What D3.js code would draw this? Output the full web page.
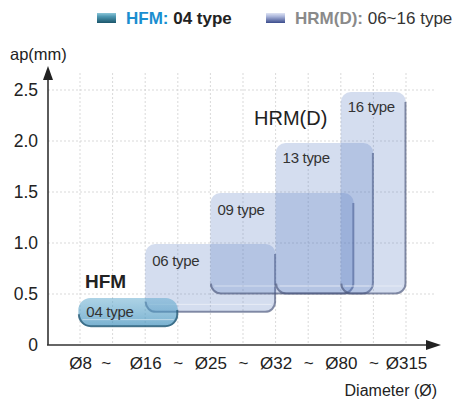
<!DOCTYPE html>
<html>
<head>
<meta charset="utf-8">
<script src="https://cdn.jsdelivr.net/npm/d3@7"></script>
<style>
  html, body { margin: 0; padding: 0; background: #fff; }
  svg { display: block; font-family: "Liberation Sans", Arial, sans-serif; }
</style>
</head>
<body>
<svg id="chart" width="454" height="403"></svg>
<script>
// ---- data ----
const xLabels = ["Ø8", "~", "Ø16", "~", "Ø25", "~", "Ø32", "~", "Ø80", "~", "Ø315"];
const yTicks = [0, 0.5, 1.0, 1.5, 2.0, 2.5];
const boxNames = ["04 type", "06 type", "09 type", "13 type", "16 type"];
const boxSeries = ["HFM", "HRM", "HRM", "HRM", "HRM"];
const boxXStart = [-0.05, 2, 4, 6, 8];      // in diameter-category index units
const boxXEnd   = [3, 6, 8.4, 9, 10];
const apMin = [0.18, 0.32, 0.5, 0.5, 0.5];
const apMax = [0.46, 0.99, 1.49, 1.98, 2.48];
const legendNames = ["HFM", "HRM(D)"];
const legendDesc = ["04 type", "06~16 type"];

// ---- setup ----
const svg = d3.select("#chart");
const x = d3.scaleLinear().domain([0, 10]).range([80, 406]);
const y = d3.scaleLinear().domain([0, 2.5]).range([345, 90]);
const axisX0 = 48;

const defs = svg.append("defs");
function grad(id, stops) {
  const g = defs.append("linearGradient").attr("id", id).attr("x1", 0).attr("y1", 0).attr("x2", 0).attr("y2", 1);
  stops.forEach(s => g.append("stop").attr("offset", s[0]).attr("stop-color", s[1]).attr("stop-opacity", s[2] == null ? 1 : s[2]));
}
grad("swHFM", [[0, "#8cc6d8"], [0.35, "#4f98b2"], [1, "#1b566b"]]);
grad("swHRM", [[0, "#dfe4f4"], [0.35, "#aab5da"], [1, "#3b4c8c"]]);
grad("fillHFM", [[0, "#5aa6cc", 0.5], [1, "#3a8cba", 0.68]]);

// ---- grid ----
const grid = svg.append("g").attr("stroke", "#cfcfcf").attr("stroke-width", 0.8).attr("stroke-dasharray", "2,2");
grid.selectAll("line.h").data(yTicks.filter(v => v > 0)).join("line")
  .attr("x1", axisX0).attr("x2", 436)
  .attr("y1", d => y(d)).attr("y2", d => y(d));
grid.selectAll("line.v").data(d3.range(xLabels.length)).join("line")
  .attr("x1", d => x(d)).attr("x2", d => x(d))
  .attr("y1", 73).attr("y2", y(0));

// ---- boxes ----
const boxes = boxNames.map((n, i) => ({
  name: n, series: boxSeries[i],
  x0: x(boxXStart[i]), x1: x(boxXEnd[i]),
  y0: y(apMax[i]), y1: y(apMin[i])
}));
const order = [1, 2, 3, 4, 0];
const bg = svg.append("g");
order.forEach(i => {
  const b = boxes[i];
  const g = bg.append("g");
  const hfm = b.series === "HFM";
  const r = hfm ? 12 : 10;
  const w = b.x1 - b.x0, h = b.y1 - b.y0;
  g.append("rect")
    .attr("x", b.x0).attr("y", b.y0).attr("width", w).attr("height", h)
    .attr("rx", r).attr("ry", r)
    .attr("fill", hfm ? "url(#fillHFM)" : "rgba(90,125,195,0.26)");
  // glossy line near bottom
  g.append("line")
    .attr("x1", b.x0 + 4).attr("x2", b.x1 - 4)
    .attr("y1", b.y1 - (hfm ? 7 : 8)).attr("y2", b.y1 - (hfm ? 7 : 8))
    .attr("stroke", "rgba(255,255,255,0.45)").attr("stroke-width", 1);
  // bottom/right shadow edge
  const p = d3.path();
  p.moveTo(b.x1 - 0.5, b.y0 + r);
  p.lineTo(b.x1 - 0.5, b.y1 - r);
  p.arcTo(b.x1 - 0.5, b.y1 - 0.5, b.x1 - r, b.y1 - 0.5, r);
  p.lineTo(b.x0 + r, b.y1 - 0.5);
  p.arcTo(b.x0 + 0.5, b.y1 - 0.5, b.x0 + 0.5, b.y1 - r, r);
  g.append("path").attr("d", p.toString()).attr("fill", "none")
    .attr("stroke", hfm ? "rgba(30,80,105,0.7)" : "rgba(70,80,115,0.6)")
    .attr("stroke-width", 2);
  g.append("text")
    .attr("x", b.x0 + (hfm ? 8 : 7))
    .attr("y", b.y0 + (hfm ? 19 : (h > 140 ? 20 : 22)))
    .attr("font-size", 15).attr("fill", "#333").attr("letter-spacing", -0.3)
    .text(b.name);
});

// ---- series labels ----
svg.append("text").attr("x", 85).attr("y", 288)
  .attr("font-size", 19).attr("font-weight", "bold").attr("fill", "#222").text(legendNames[0]);
svg.append("text").attr("x", 254).attr("y", 125)
  .attr("font-size", 20).attr("fill", "#222").text(legendNames[1]);

// ---- axes ----
const yAxis = d3.axisLeft(y).tickValues(yTicks).tickSize(0).tickPadding(10)
  .tickFormat(d => d === 0 ? "0" : d3.format(".1f")(d));
const gy = svg.append("g").attr("transform", `translate(${axisX0},0)`).call(yAxis);
gy.select(".domain").remove();
gy.selectAll("text").attr("font-size", 17.5).attr("fill", "#222")
  .attr("font-family", "Liberation Sans, Arial, sans-serif");

const xAxis = d3.axisBottom(x).tickValues(d3.range(xLabels.length)).tickSize(0).tickPadding(12)
  .tickFormat((d, i) => xLabels[i]);
const gx = svg.append("g").attr("transform", `translate(0,${y(0)})`).call(xAxis);
gx.select(".domain").remove();
gx.selectAll("text").attr("font-size", 17).attr("fill", "#222")
  .attr("font-family", "Liberation Sans, Arial, sans-serif")
  .attr("dx", (d, i) => i === 1 ? -7 : 0);

// axis lines + arrows
svg.append("line").attr("x1", axisX0).attr("x2", axisX0).attr("y1", y(0)).attr("y2", 78)
  .attr("stroke", "#333").attr("stroke-width", 1.6);
svg.append("path").attr("d", `M${axisX0},66 L${axisX0 - 5},80 L${axisX0 + 5},80 Z`).attr("fill", "#222");
svg.append("line").attr("x1", axisX0 - 1).attr("x2", 430).attr("y1", y(0)).attr("y2", y(0))
  .attr("stroke", "#333").attr("stroke-width", 1.6);
svg.append("path").attr("d", `M441,${y(0)} L426,${y(0) - 5} L426,${y(0) + 5} Z`).attr("fill", "#222");

svg.append("text").attr("x", 10).attr("y", 60).attr("font-size", 16.5).attr("fill", "#222").text("ap(mm)");
svg.append("text").attr("x", 437).attr("y", 396).attr("text-anchor", "end")
  .attr("font-size", 16).attr("fill", "#222").text("Diameter (Ø)");

// ---- legend ----
const lg = svg.append("g");
lg.append("rect").attr("x", 97).attr("y", 13).attr("width", 19).attr("height", 10).attr("fill", "url(#swHFM)");
const t1 = lg.append("text").attr("x", 126).attr("y", 24).attr("font-size", 17).attr("font-weight", "bold");
t1.append("tspan").attr("fill", "#1a8ed0").text(legendNames[0] + ":");
t1.append("tspan").attr("fill", "#222").text(" " + legendDesc[0]);
lg.append("rect").attr("x", 266).attr("y", 13).attr("width", 19).attr("height", 10).attr("fill", "url(#swHRM)");
const t2 = lg.append("text").attr("x", 295).attr("y", 24).attr("font-size", 17);
t2.append("tspan").attr("fill", "#8a8a8a").attr("font-weight", "bold").text(legendNames[1] + ":");
t2.append("tspan").attr("fill", "#333").text(" " + legendDesc[1]);
</script>
</body>
</html>
